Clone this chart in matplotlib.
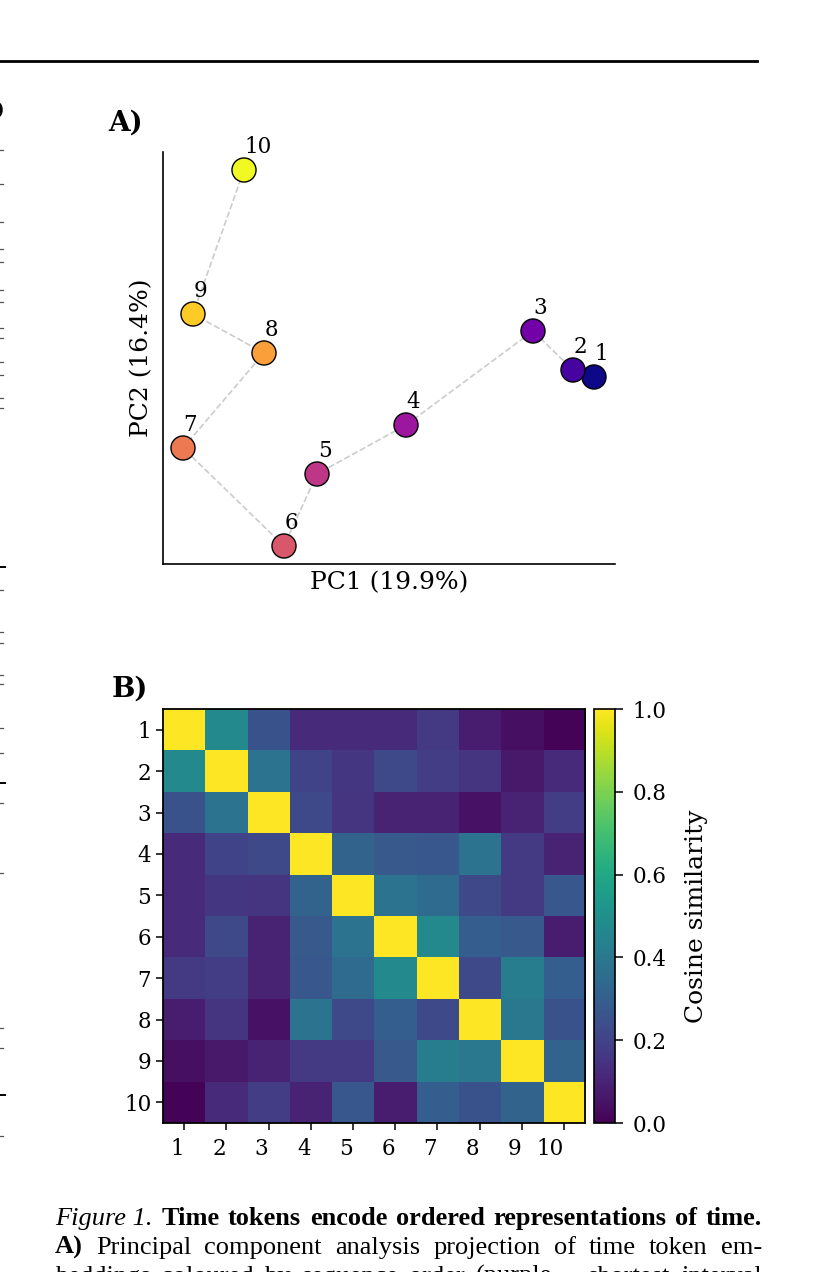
import numpy as np
import matplotlib
matplotlib.use('Agg')
import matplotlib.pyplot as plt
from matplotlib.lines import Line2D

# ---- data ----
tokens = [1, 2, 3, 4, 5, 6, 7, 8, 9, 10]
pc1 = [2.04, 1.83, 1.43, 0.16, -0.73, -1.06, -2.07, -1.26, -1.97, -1.46]
pc2 = [-0.17, -0.10, 0.29, -0.65, -1.14, -1.86, -0.88, 0.07, 0.46, 1.90]

sim = np.array([
    [1.00, 0.47, 0.25, 0.12, 0.12, 0.12, 0.17, 0.08, 0.04, 0.01],
    [0.47, 1.00, 0.38, 0.20, 0.16, 0.22, 0.18, 0.15, 0.07, 0.12],
    [0.25, 0.38, 1.00, 0.22, 0.15, 0.10, 0.10, 0.05, 0.10, 0.18],
    [0.12, 0.20, 0.22, 1.00, 0.32, 0.28, 0.27, 0.38, 0.17, 0.10],
    [0.12, 0.16, 0.15, 0.32, 1.00, 0.38, 0.35, 0.22, 0.17, 0.27],
    [0.12, 0.22, 0.10, 0.28, 0.38, 1.00, 0.47, 0.30, 0.28, 0.08],
    [0.17, 0.18, 0.10, 0.27, 0.35, 0.47, 1.00, 0.22, 0.42, 0.30],
    [0.08, 0.15, 0.05, 0.38, 0.22, 0.30, 0.22, 1.00, 0.40, 0.25],
    [0.04, 0.07, 0.10, 0.17, 0.17, 0.28, 0.42, 0.40, 1.00, 0.32],
    [0.01, 0.12, 0.18, 0.10, 0.27, 0.08, 0.30, 0.25, 0.32, 1.00],
])
cbar_ticks = [0.0, 0.2, 0.4, 0.6, 0.8, 1.0]

caption = [
    [("Figure 1.", dict(style='italic')),
     ("Time", dict(weight='bold')), ("tokens", dict(weight='bold')),
     ("encode", dict(weight='bold')), ("ordered", dict(weight='bold')),
     ("representations", dict(weight='bold')), ("of", dict(weight='bold')),
     ("time.", dict(weight='bold'))],
    [("A)", dict(weight='bold'))] + [(w, {}) for w in
     "Principal component analysis projection of time token em-".split()],
    [(w, {}) for w in
     "beddings coloured by sequence order (purple = shortest interval".split()],
]

W, H = 813, 1272
plt.rcParams['font.family'] = 'DejaVu Serif'
fig = plt.figure(figsize=(W / 100, H / 100), dpi=100)


def box(l, t, r, b):
    return [l / W, 1 - b / H, (r - l) / W, (b - t) / H]


# ---- A) PCA scatter ----
ax1 = fig.add_axes(box(163, 152, 615, 564))
cols = plt.cm.plasma(np.linspace(0, 1, len(tokens)))
ax1.plot(pc1, pc2, ls='--', color='#cccccc', lw=1.2, zorder=1)
ax1.scatter(pc1, pc2, s=300, c=cols, edgecolors='black', linewidths=1.0, zorder=2)
for t, x, y in zip(tokens, pc1, pc2):
    ax1.annotate(str(t), (x, y), xytext=(0.5, 12.5), textcoords='offset points',
                 ha='left', va='baseline', fontsize=15.5)
ax1.set_xlim(-2.27, 2.25)
ax1.set_ylim(-2.04, 2.08)
ax1.set_xticks([])
ax1.set_yticks([])
for s in ['top', 'right']:
    ax1.spines[s].set_visible(False)
for s in ['left', 'bottom']:
    ax1.spines[s].set_linewidth(1.2)
ax1.set_xlabel('PC1 (19.9%)', fontsize=18, labelpad=5)
ax1.set_ylabel('PC2 (16.4%)', fontsize=18, labelpad=7)

# ---- B) similarity heatmap ----
ax2 = fig.add_axes(box(163, 709, 585, 1123))
im = ax2.imshow(sim, cmap='viridis', vmin=0, vmax=1, aspect='auto',
                interpolation='nearest')
ax2.set_xticks(range(len(tokens)))
ax2.set_yticks(range(len(tokens)))
ax2.set_xticklabels([str(t) for t in tokens], ha='right', fontsize=15.5)
ax2.set_yticklabels([str(t) for t in tokens], fontsize=15.5)
ax2.tick_params(length=5, width=1.1)
ax2.tick_params(axis='x', pad=6)
for s in ax2.spines.values():
    s.set_linewidth(1.3)

cax = fig.add_axes(box(594, 709, 615, 1123))
cb = fig.colorbar(im, cax=cax, ticks=cbar_ticks)
cb.ax.set_yticklabels(['%.1f' % v for v in cbar_ticks], fontsize=15.5)
cb.ax.tick_params(length=5.5, width=1.1, pad=7)
cb.outline.set_linewidth(1.2)
cb.set_label('Cosine similarity', fontsize=18, labelpad=13)

# panel letters
fig.text(108 / W, 1 - 131 / H, 'A)', fontsize=20, weight='bold', va='baseline')
fig.text(112 / W, 1 - 697 / H, 'B)', fontsize=20, weight='bold', va='baseline')

# ---- page decorations ----
fig.add_artist(Line2D([0, 757 / W], [1 - 61 / H, 1 - 61 / H], color='black', lw=2.0))
fig.text(-5 / W, 1 - 116 / H, ')', fontsize=15, weight='bold', va='baseline')
for yy in [150, 184, 222, 249, 262, 290, 302, 328, 338, 362, 375, 398, 408,
           590, 632, 643, 675, 684, 728, 753, 803, 873, 1028, 1048, 1136]:
    fig.add_artist(Line2D([0, 2.5 / W], [1 - yy / H] * 2, color='#555555', lw=0.9))
for yy in [567, 783, 1095]:
    fig.add_artist(Line2D([0, 5 / W], [1 - yy / H] * 2, color='black', lw=1.4))

# ---- caption, justified ----
renderer = fig.canvas.get_renderer()
x0, x1 = 55, 762
for i, line in enumerate(caption):
    yb = 1 - (1225 + 29 * i) / H
    arts = [fig.text(0, yb, w, fontsize=19, family='Liberation Serif',
                     va='baseline', **st) for w, st in line]
    widths = [a.get_window_extent(renderer).width for a in arts]
    gap = (x1 - x0 - sum(widths)) / (len(arts) - 1)
    x = x0
    for a, w in zip(arts, widths):
        a.set_x(x / W)
        x += w + gap

fig.savefig('out.png', dpi=100)
